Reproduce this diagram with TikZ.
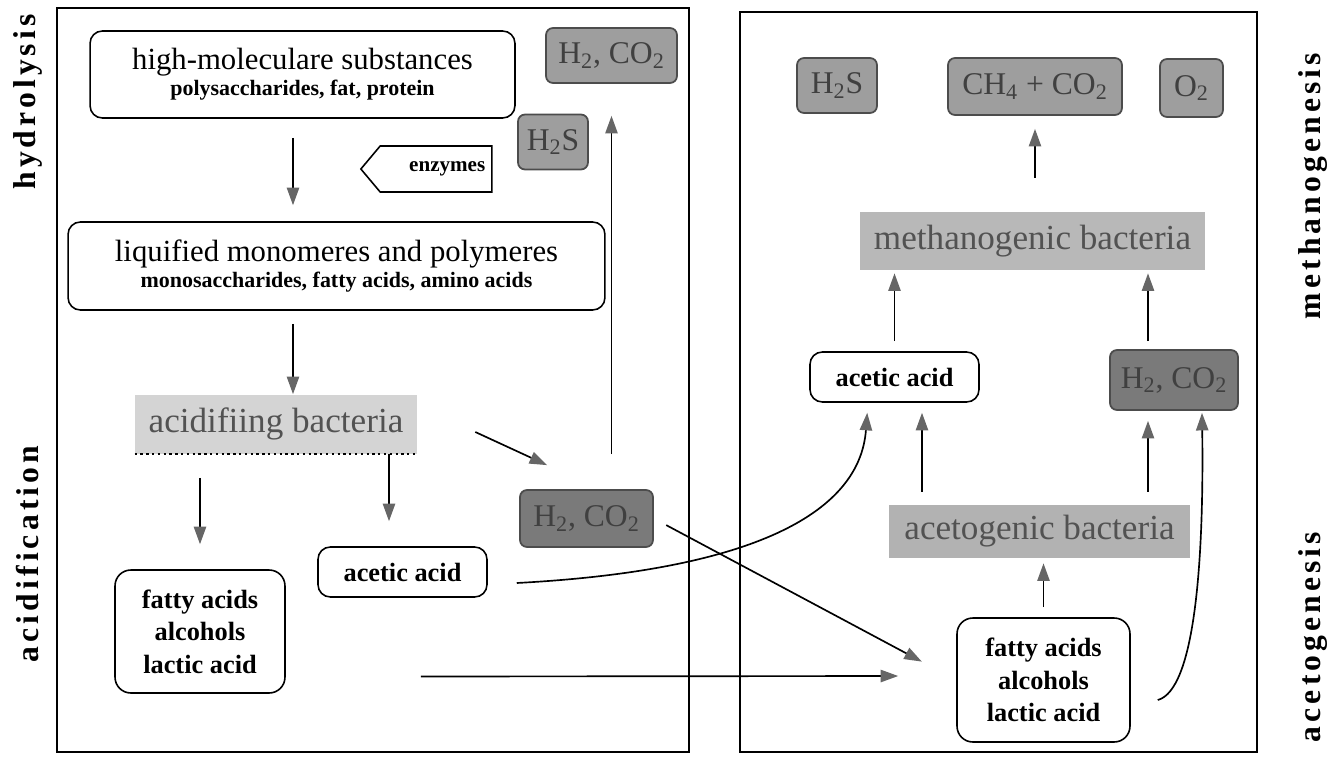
\documentclass[tikz,border=0pt]{standalone}
\usepackage{fontspec}
\setmainfont{Liberation Serif}
\usetikzlibrary{arrows.meta,shapes.symbols,calc}

\begin{document}
\begin{tikzpicture}[x=0.02cm,y=-0.02cm,
    box/.style={draw,line width=0.9pt,rounded corners=7pt,fill=white,align=center,inner sep=0pt},
    gas/.style={draw=black!70,line width=1pt,rounded corners=4pt,fill=black!38,text=black!75,
        font=\fontsize{18}{20}\selectfont,inner sep=0pt},
    gasdark/.style={gas,fill=black!52},
    bact/.style={fill=black!25,text=black!68,font=\fontsize{20}{22}\selectfont,inner sep=0pt},
    phase/.style={rotate=90,font=\fontsize{18}{20}\selectfont\bfseries\addfontfeature{LetterSpace=13}},
    flow/.style={line width=0.95pt,-{Triangle[length=10pt,width=7pt,color=black!60]}},
    panel/.style={line width=1pt}]

\useasboundingbox (0,0) rectangle (1340,758);

% the two panels
\draw[panel] (57,8) rectangle (689,752);
\draw[panel] (740,12) rectangle (1257,752);

\node[phase] (hydro) at (28,102) {hydrolysis};
\node[phase] (acidif) at (28,554) {acidification};
\node[phase] (methano) at (1313,186) {methanogenesis};
\node[phase] (aceto) at (1313,637) {acetogenesis};

% left panel
\node[box,minimum width=8.5cm,minimum height=1.74cm,font=\fontsize{12.5}{15}\selectfont\bfseries] (highmol) at (302.5,74.5)
    {{\fontsize{17.5}{20}\mdseries\selectfont high-moleculare substances}\\polysaccharides, fat, protein};
\node[box,minimum width=10.74cm,minimum height=1.76cm,font=\fontsize{12.5}{15}\selectfont\bfseries] (liquid) at (336.5,266)
    {{\fontsize{17.5}{20}\mdseries\selectfont liquified monomeres and polymeres}\\monosaccharides, fatty acids, amino acids};
\node[gas,minimum width=2.62cm,minimum height=1.1cm] (gastop) at (611.5,55.5) {H\textsubscript{2}, CO\textsubscript{2}};
\node[gas,minimum width=1.4cm,minimum height=1.1cm] (hsleft) at (553,142) {H\textsubscript{2}S};
\node[draw,line width=0.9pt,signal,signal to=west,signal pointer angle=100,minimum width=2.62cm,minimum height=0.92cm,
    font=\fontsize{12}{14}\selectfont\bfseries] (enzymes) at (436,169) {\hspace*{0.45cm}enzymes};
\node[bact,minimum width=5.64cm,minimum height=1.18cm,fill=black!17] (acidbact) at (276,424) {acidifiing bacteria};
\draw[dotted,line width=1.3pt] (acidbact.south west) -- (acidbact.south east);
\node[gasdark,minimum width=2.66cm,minimum height=1.14cm] (gasmid) at (586.5,518.5) {H\textsubscript{2}, CO\textsubscript{2}};
\node[box,minimum width=3.38cm,minimum height=1cm,font=\fontsize{15}{18}\selectfont\bfseries] (aceticL) at (402.5,572) {acetic acid};
\node[box,minimum width=3.4cm,minimum height=2.46cm,rounded corners=9pt,font=\fontsize{15}{18.5}\selectfont\bfseries] (fattyL) at (200,631.5)
    {fatty acids\\alcohols\\lactic acid};

% right panel
\node[gas,minimum width=1.6cm,minimum height=1.1cm] (hsright) at (837,85.5) {H\textsubscript{2}S};
\node[gas,minimum width=3.48cm,minimum height=1.14cm] (methane) at (1035,86.5) {CH\textsubscript{4} + CO\textsubscript{2}};
\node[gas,minimum width=1.26cm,minimum height=1.16cm] (oxygen) at (1191.5,88) {O\textsubscript{2}};
\node[bact,minimum width=6.9cm,minimum height=1.16cm,fill=black!28] (methbact) at (1032.5,241) {methanogenic bacteria};
\node[box,minimum width=3.38cm,minimum height=1cm,font=\fontsize{15}{18}\selectfont\bfseries] (aceticR) at (894.5,377) {acetic acid};
\node[gasdark,minimum width=2.56cm,minimum height=1.2cm] (gasright) at (1174,380) {H\textsubscript{2}, CO\textsubscript{2}};
\node[bact,minimum width=6.02cm,minimum height=1.06cm,fill=black!30] (acetbact) at (1039.5,531.5) {acetogenic bacteria};
\node[box,minimum width=3.46cm,minimum height=2.48cm,rounded corners=9pt,font=\fontsize{15}{18.5}\selectfont\bfseries] (fattyR) at (1043.5,680)
    {fatty acids\\alcohols\\lactic acid};

% arrows, left
\draw[flow,shorten <=0.38cm,shorten >=0.32cm] ([xshift=-0.19cm]highmol.south) -- ([xshift=-0.19cm]highmol.south |- liquid.north);
\draw[flow,shorten <=0.26cm] ([xshift=0.34cm]acidbact.north |- liquid.south) -- ([xshift=0.34cm]acidbact.north);
\draw[flow,shorten <=0.48cm,shorten >=0.5cm] (fattyL.north |- acidbact.south) -- (fattyL.north);
\draw[flow,shorten >=0.5cm] ([xshift=-0.27cm]aceticL.north |- acidbact.south) -- ([xshift=-0.27cm]aceticL.north);
\draw[flow] ($(acidbact.east)+(58,8)$) -- ($(gasmid.north west)+(28,-24)$);
\draw[flow,shorten <=0.7cm,shorten >=0.64cm] (gastop.south |- gasmid.north) -- (gastop.south);

% arrows across
\draw[flow,shorten <=0.28cm,shorten >=0.78cm] (gasmid.east) -- (fattyR.west);
\draw[flow] ($(fattyL.east)+(135,45)$) -- ($(fattyR.west)+(-58,-4)$);
\draw[flow] ($(aceticL.east)+(29,11)$) .. controls (760,570) and (860,510) .. ($(aceticR.south west)+(58,10)$);

% arrows, right
\draw[flow,shorten <=0.2cm,shorten >=0.1cm] (fattyR.north) -- (fattyR.north |- acetbact.south);
\draw[flow,shorten <=0.26cm,shorten >=0.2cm] ([xshift=0.55cm]aceticR.south |- acetbact.north) -- ([xshift=0.55cm]aceticR.south);
\draw[flow,shorten <=0.26cm,shorten >=0.2cm] ([xshift=-0.52cm]gasright.south |- acetbact.north) -- ([xshift=-0.52cm]gasright.south);
\draw[flow,shorten <=0.2cm,shorten >=0.06cm] (aceticR.north) -- (aceticR.north |- methbact.south);
\draw[flow,shorten <=0.16cm,shorten >=0.06cm] ([xshift=-0.52cm]gasright.north) -- ([xshift=-0.52cm]gasright.north |- methbact.south);
\draw[flow,shorten <=0.68cm,shorten >=0.26cm] (methane.south |- methbact.north) -- (methane.south);
\draw[flow] ($(fattyR.east)+(27,20)$) .. controls (1195,690) and (1204,560) .. ($(gasright.south)+(28,2)$);

\end{tikzpicture}
\end{document}
